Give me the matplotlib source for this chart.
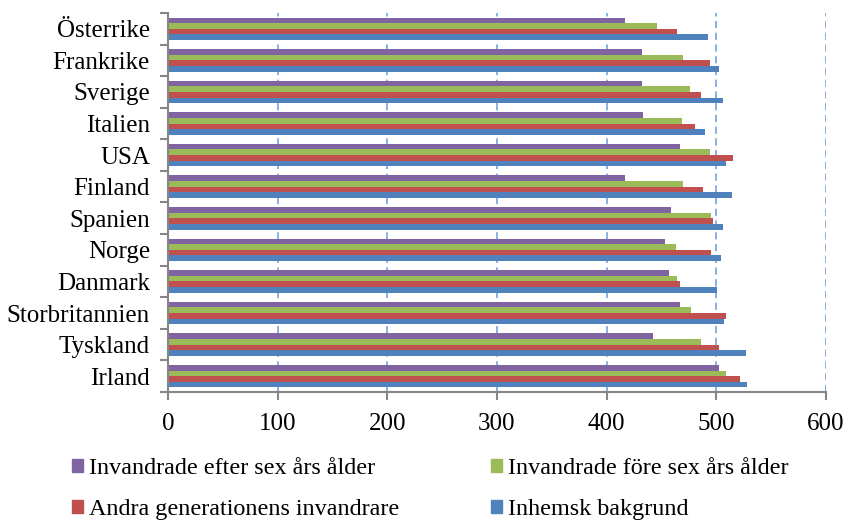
import numpy as np
import matplotlib
matplotlib.use("Agg")
import matplotlib.pyplot as plt
from matplotlib.patches import Patch

# categories listed bottom -> top, as Excel draws them
countries = ['Irland', 'Tyskland', 'Storbritannien', 'Danmark', 'Norge', 'Spanien',
             'Finland', 'USA', 'Italien', 'Sverige', 'Frankrike', 'Österrike']

inhemsk = [528, 527, 507, 501, 504, 506, 514, 509, 490, 506, 502, 492]
andra_gen = [522, 502, 509, 467, 495, 497, 488, 515, 481, 486, 494, 464]
fore_sex = [509, 486, 477, 464, 463, 495, 470, 494, 469, 476, 470, 446]
efter_sex = [502, 442, 467, 457, 453, 459, 417, 467, 433, 432, 432, 417]

labels = ['Inhemsk bakgrund', 'Andra generationens invandrare',
          'Invandrade före sex års ålder', 'Invandrade efter sex års ålder']
colors = ['#4F81BD', '#C0504D', '#9BBB59', '#8064A2']

plt.rcParams['font.family'] = ['Liberation Serif', 'DejaVu Serif']

fig = plt.figure(figsize=(8.45, 5.2), dpi=100)
ax = fig.add_axes([0.1988, 0.2462, 0.7787, 0.7288])

y = np.arange(len(countries))
h = 0.714 / 4
series = [inhemsk, andra_gen, fore_sex, efter_sex]
for i, (vals, col) in enumerate(zip(series, colors)):
    ax.barh(y + (i - 1.5) * h, vals, height=h, color=col, linewidth=0)

ax.set_xlim(0, 600)
ax.set_ylim(-0.5, len(countries) - 0.5)
ax.set_xticks(np.arange(0, 601, 100))
ax.tick_params(axis='x', labelsize=18, length=6, width=1.5, color='#868686', pad=9)

# tick marks on category boundaries, labels in the middle
ax.set_yticks(np.arange(-0.5, len(countries), 1))
ax.set_yticklabels([])
ax.set_yticks(y, minor=True)
ax.set_yticklabels(countries, minor=True)
ax.tick_params(axis='y', which='major', length=6, width=1.5, color='#868686')
ax.tick_params(axis='y', which='minor', length=0, labelsize=18, pad=13)

for s in ['top', 'right']:
    ax.spines[s].set_visible(False)
for s in ['left', 'bottom']:
    ax.spines[s].set_color('#868686')
    ax.spines[s].set_linewidth(1.5)

ax.set_axisbelow(True)
for xv in range(100, 601, 100):
    ax.axvline(xv, color='#7FAADF', linewidth=1.3, linestyle=(0, (4, 2.5)), zorder=0)

handles = [Patch(color=colors[3]), Patch(color=colors[1]),
           Patch(color=colors[2]), Patch(color=colors[0])]
leg_labels = [labels[3], labels[1], labels[2], labels[0]]
fig.legend(handles, leg_labels, ncol=2, loc='upper left', bbox_to_anchor=(0.071, 0.143),
           frameon=False, fontsize=17.4, handlelength=0.45, handleheight=0.45,
           handletextpad=0.25, columnspacing=3.8, labelspacing=0.85, borderpad=0)

fig.savefig('out.png', dpi=100)
